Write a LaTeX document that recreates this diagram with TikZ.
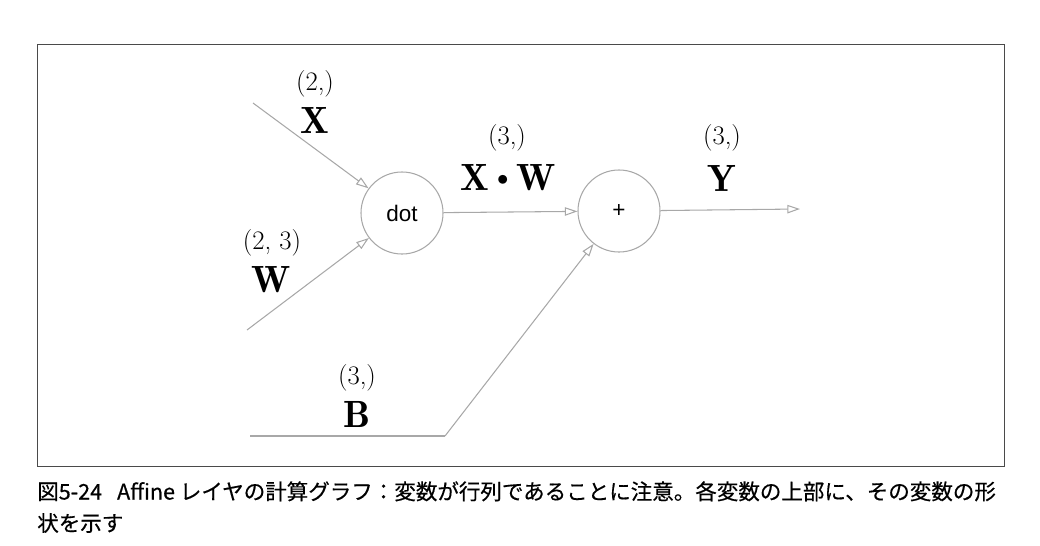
\documentclass[tikz,border=0pt]{standalone}
\usepackage{amsmath, amssymb}
\usepackage{fontspec}
\newfontfamily\jpfont[FakeBold=0.4]{Noto Sans CJK JP}
\newfontfamily\opfont{Liberation Sans}
\usepackage{tikz}
\usetikzlibrary{arrows.meta}
\definecolor{edgegray}{HTML}{A8A8A8}
\definecolor{framegray}{HTML}{4A4A4A}
\newcommand{\mdot}{\mathbin{\raisebox{0.35ex}{\scalebox{0.65}{$\bullet$}}}}

\begin{document}
\begin{tikzpicture}[
      x=0.025cm, y=-0.025cm,
      op/.style={circle, draw=edgegray, line width=0.75pt, minimum size=2.05cm,
                 inner sep=0pt, font=\opfont\fontsize{16}{18}\selectfont},
      arrow/.style={-{Triangle[open, length=9pt, width=6pt]}, edgegray, line width=0.75pt},
      line/.style={edgegray, line width=0.75pt},
      var/.style={font=\fontsize{27}{30}\selectfont, inner sep=0pt},
      dims/.style={font=\fontsize{19}{22}\selectfont, inner sep=0pt}
    ]
    \useasboundingbox (0,0) rectangle (1040,546);
    \draw[framegray, line width=0.6pt] (37,44) rectangle (1004,466);
    % operation nodes
    \node[op] (dot) at (402,213) {dot};
    \node[op] (add) at (619,211) {+};
    % free ends of the edges
    \coordinate (xin) at (253,103);
    \coordinate (win) at (247,330);
    \coordinate (bin) at (250,436);
    \coordinate (bend) at (445,436);
    \coordinate (yout) at (800,209);
    \draw[arrow] (xin) -- (dot);
    \draw[arrow] (win) -- (dot);
    \draw[arrow] (dot) -- (add);
    \draw[arrow] (add) -- (yout);
    \draw[line] (bin) -- (bend);
    \draw[arrow] (bend) -- (add);
    % variables and their shapes
    \node[dims] (xs) at (315,84) {(2,)};
    \node[var] (x) at (315,120) {$\mathbf{X}$};
    \node[dims] (ws) at (272,243) {(2, 3)};
    \node[var] (w) at (271,280) {$\mathbf{W}$};
    \node[dims] (xws) at (507,138) {(3,)};
    \node[var] (xw) at (508,178) {$\mathbf{X}\mdot\mathbf{W}$};
    \node[dims] (ys) at (722,138) {(3,)};
    \node[var] (y) at (722,178) {$\mathbf{Y}$};
    \node[dims] (bs) at (357,378) {(3,)};
    \node[var] (b) at (357,414) {$\mathbf{B}$};
    % caption
    \node[anchor=north west, align=left, inner sep=0pt,
          font=\jpfont\fontsize{15.3}{22.5}\selectfont] (cap) at (37,481)
      {図5-24\hspace{0.7em}Affine レイヤの計算グラフ：変数が行列であることに注意。各変数の上部に、その変数の形\\
       状を示す};
  \end{tikzpicture}
\end{document}
